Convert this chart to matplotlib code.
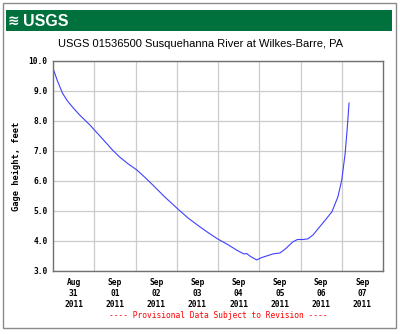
import matplotlib.pyplot as plt
from matplotlib.patches import Rectangle
import pandas as pd

# gage height readings, Susquehanna River at Wilkes-Barre
times = [
    "2011-08-31 00:15", "2011-08-31 02:30", "2011-08-31 05:30", "2011-08-31 08:15",
    "2011-08-31 11:15", "2011-08-31 15:30", "2011-08-31 21:15", "2011-09-01 02:00",
    "2011-09-01 07:15", "2011-09-01 10:30", "2011-09-01 14:45", "2011-09-01 19:30",
    "2011-09-02 00:45", "2011-09-02 05:30", "2011-09-02 10:00", "2011-09-02 17:00",
    "2011-09-03 00:00", "2011-09-03 06:30", "2011-09-03 13:30", "2011-09-03 18:30",
    "2011-09-03 23:45", "2011-09-04 05:45", "2011-09-04 10:45", "2011-09-04 15:00",
    "2011-09-04 16:45", "2011-09-04 18:30", "2011-09-04 20:00", "2011-09-04 22:30",
    "2011-09-05 01:30", "2011-09-05 04:15", "2011-09-05 08:00", "2011-09-05 12:00",
    "2011-09-05 15:30", "2011-09-05 19:30", "2011-09-05 22:15", "2011-09-06 01:15",
    "2011-09-06 04:15", "2011-09-06 07:15", "2011-09-06 13:00", "2011-09-06 18:15",
    "2011-09-06 21:45", "2011-09-07 00:00", "2011-09-07 02:00", "2011-09-07 03:15",
    "2011-09-07 04:15",
]
gage_ft = [
    9.72, 9.35, 8.93, 8.68,
    8.47, 8.20, 7.88, 7.58,
    7.25, 7.04, 6.80, 6.58,
    6.37, 6.12, 5.87, 5.47,
    5.10, 4.77, 4.47, 4.27,
    4.07, 3.88, 3.70, 3.57,
    3.58, 3.50, 3.45, 3.37,
    3.45, 3.50, 3.57, 3.60,
    3.75, 3.97, 4.05, 4.05,
    4.07, 4.20, 4.60, 4.97,
    5.47, 6.03, 6.93, 7.80,
    8.60,
]

tick_days = ["2011-08-31", "2011-09-01", "2011-09-02", "2011-09-03",
             "2011-09-04", "2011-09-05", "2011-09-06", "2011-09-07"]
tick_labels = ["Aug\n31\n2011", "Sep\n01\n2011", "Sep\n02\n2011", "Sep\n03\n2011",
               "Sep\n04\n2011", "Sep\n05\n2011", "Sep\n06\n2011", "Sep\n07\n2011"]
y_ticks = [3.0, 4.0, 5.0, 6.0, 7.0, 8.0, 9.0, 10.0]

t = pd.to_datetime(times)
days = pd.to_datetime(tick_days)

fig = plt.figure(figsize=(4, 3.34), dpi=100)
W, H = 400, 334

# outer frame and banner
fig.patches.append(Rectangle((3 / W, 6 / H), 393 / W, 325 / H, transform=fig.transFigure,
                             fill=False, edgecolor="#8a8a8a", linewidth=1))
fig.patches.append(Rectangle((6 / W, (H - 31) / H), 386 / W, 21 / H, transform=fig.transFigure,
                             facecolor="#00703c", edgecolor="none"))
fig.text(8 / W, (H - 21) / H, "\u224b", color="white", fontsize=10, fontweight="bold",
         va="center", ha="left")
fig.text(23 / W, (H - 21) / H, "USGS", color="white", fontsize=11.5, fontweight="bold",
         va="center", ha="left", family="Liberation Sans")

fig.text(0.5, (H - 44) / H, "USGS 01536500 Susquehanna River at Wilkes-Barre, PA",
         ha="center", va="center", fontsize=8.0, family="Liberation Sans")

ax = fig.add_axes([53 / W, (H - 271) / H, 330 / W, 210 / H])
ax.plot(t, gage_ft, color="#4040ff", linewidth=0.8)

ax.set_xlim(pd.Timestamp("2011-08-31"), pd.Timestamp("2011-09-08"))
ax.set_ylim(3.0, 10.0)

# labels sit at midday, grid lines at midnight
ax.set_xticks(days + pd.Timedelta(hours=12))
ax.set_xticklabels(tick_labels, family="DejaVu Sans Mono", fontsize=5.7,
                   fontweight="bold", linespacing=1.3)
ax.set_xticks(days[1:], minor=True)
ax.set_yticks(y_ticks)
ax.set_yticklabels([f"{v:.1f}" for v in y_ticks], family="DejaVu Sans Mono",
                   fontsize=5.7, fontweight="bold")
ax.tick_params(axis="both", which="both", length=0)
ax.tick_params(axis="x", pad=5)
ax.tick_params(axis="y", pad=4)
ax.grid(True, which="minor", axis="x", color="#cccccc", linewidth=0.9)
ax.grid(True, which="major", axis="y", color="#cccccc", linewidth=0.9)
ax.set_axisbelow(True)
for s in ax.spines.values():
    s.set_color("#707070")
    s.set_linewidth(1)

ax.set_ylabel("Gage height, feet", family="DejaVu Sans Mono", fontsize=6.3,
              fontweight="bold", labelpad=5)

fig.text(218 / W, (H - 316) / H, "---- Provisional Data Subject to Revision ----",
         ha="center", va="center", color="red", fontsize=5.7,
         family="DejaVu Sans Mono")

fig.savefig("out.png", dpi=100)
